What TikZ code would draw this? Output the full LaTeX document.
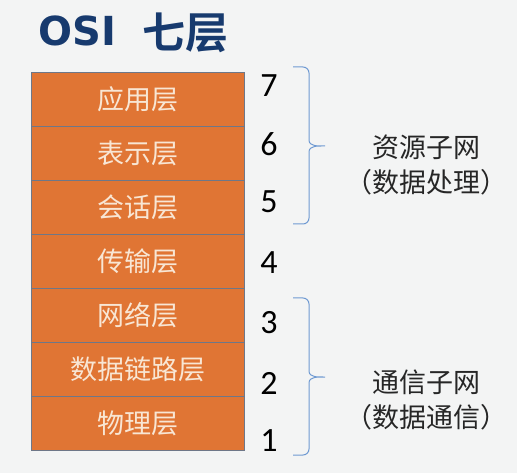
\documentclass[tikz,border=0pt]{standalone}
\usepackage{fontspec}
\setmainfont{Carlito}
\newfontfamily\cjk{Noto Sans CJK SC}
\newfontfamily\cjkbold{Noto Sans CJK SC}[BoldFont={* Bold}]
\newfontfamily\latbold{DejaVu Sans}[BoldFont={DejaVu Sans Bold}]
\definecolor{bgc}{HTML}{F3F4F4}
\definecolor{layerfill}{HTML}{E07534}
\definecolor{layerline}{HTML}{6E7788}
\definecolor{layertext}{HTML}{F8E6D4}
\definecolor{navy}{HTML}{173A6E}
\definecolor{bracec}{HTML}{6F9AD2}
\tikzset{
  layerbox/.style={draw=layerline, line width=1pt, fill=layerfill, minimum width=213pt, minimum height=54pt, inner sep=0pt, anchor=north west, text=layertext, font=\cjk\fontsize{27}{29}\selectfont},
  numlbl/.style={font=\fontsize{34}{36}\selectfont, text=black, inner sep=0pt},
  grouplbl/.style={font=\cjk\fontsize{27}{35}\selectfont, text=black!85, align=center, inner sep=0pt},
  bracepath/.style={draw=bracec, line width=1pt}
}
\begin{document}
\begin{tikzpicture}[x=1pt,y=-1pt]
\fill[bgc] (0,0) rectangle (517,473);
\useasboundingbox (0,0) rectangle (517,473);
\node[font=\latbold\bfseries\fontsize{40}{42}\selectfont, text=navy, anchor=base west, inner sep=0pt] (title) at (38,46) {OSI};
\node[font=\cjkbold\bfseries\fontsize{43}{45}\selectfont, text=navy, anchor=base west, inner sep=0pt] (title2) at (142,49) {七层};
\node[layerbox] (l7) at (31,72) {应用层};
\node[layerbox] (l6) at (31,126) {表示层};
\node[layerbox] (l5) at (31,180) {会话层};
\node[layerbox] (l4) at (31,234) {传输层};
\node[layerbox] (l3) at (31,288) {网络层};
\node[layerbox] (l2) at (31,342) {数据链路层};
\node[layerbox] (l1) at (31,396) {物理层};
\node[numlbl] (n7) at (269,86) {7};
\node[numlbl] (n6) at (269,144) {6};
\node[numlbl] (n5) at (269,202) {5};
\node[numlbl] (n4) at (269,263) {4};
\node[numlbl] (n3) at (269,323) {3};
\node[numlbl] (n2) at (269,383) {2};
\node[numlbl] (n1) at (269,441) {1};
\coordinate (b1top) at (293,67);
\coordinate (b1tip) at (325,146);
\coordinate (b1bot) at (293,224);
\draw[bracepath] (b1top) -- (303,67) to[out=0,in=90] (309,73) -- (309,140) to[out=-90,in=180] (b1tip) to[out=180,in=90] (309,152) -- (309,218) to[out=-90,in=0] (303,224) -- (b1bot);
\coordinate (b2top) at (293,298);
\coordinate (b2tip) at (325,377);
\coordinate (b2bot) at (293,455);
\draw[bracepath] (b2top) -- (303,298) to[out=0,in=90] (309,304) -- (309,371) to[out=-90,in=180] (b2tip) to[out=180,in=90] (309,383) -- (309,449) to[out=-90,in=0] (303,455) -- (b2bot);
\node[grouplbl] (g1) at (426,165) {资源子网\\（数据处理）};
\node[grouplbl] (g2) at (426,400) {通信子网\\（数据通信）};
\end{tikzpicture}
\end{document}
